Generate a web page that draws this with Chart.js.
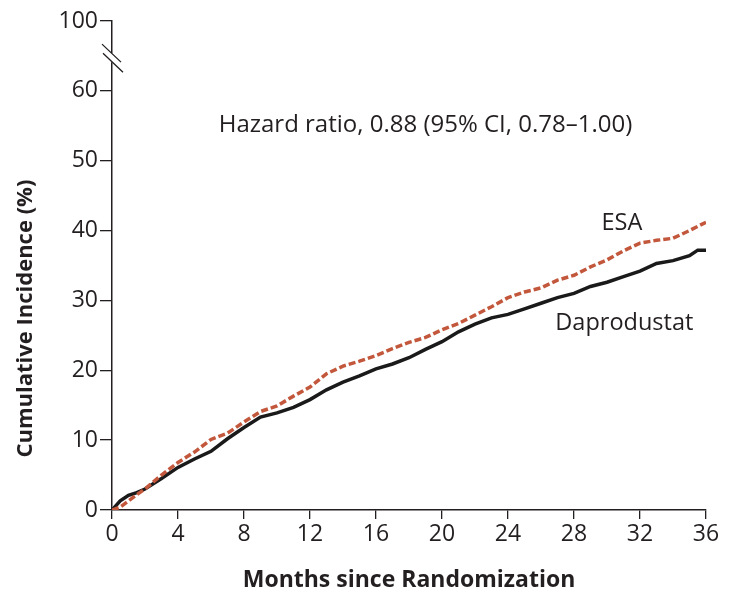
<!DOCTYPE html>
<html>
<head>
<meta charset="utf-8">
<script src="https://cdn.jsdelivr.net/npm/chart.js@4/dist/chart.umd.min.js"></script>
<style>
  html, body { margin: 0; padding: 0; background: #fff; }
  #wrap { width: 734px; height: 596px; position: relative; }
</style>
</head>
<body>
<div id="wrap"><canvas id="km"></canvas></div>
<script>
// values (months since randomization, cumulative incidence %)
const months = [0, 0.5, 1, 1.5, 2, 3, 4, 5, 6, 7, 8, 9, 10, 11, 12, 13, 14, 15, 16, 17, 18,
  19, 20, 21, 22, 23, 24, 25, 26, 27, 28, 29, 30, 31, 32, 33, 34, 35, 35.5, 36]
const dapro = [0, 1.3, 2.1, 2.5, 3.0, 4.5, 6.1, 7.3, 8.4, 10.2, 11.8, 13.3, 13.9, 14.7, 15.8, 17.2, 18.3,
  19.2, 20.2, 20.9, 21.8, 23.0, 24.1, 25.5, 26.6, 27.5, 28.0, 28.8, 29.6, 30.4, 31.0, 32.0, 32.6,
  33.4, 34.2, 35.3, 35.7, 36.4, 37.2, 37.2]
const esa = [0, 0.4, 1.3, 2.2, 3.0, 5.0, 6.8, 8.3, 10.1, 11.0, 12.6, 14.1, 14.9, 16.3, 17.6, 19.5, 20.6,
  21.3, 22.1, 23.1, 24.0, 24.7, 25.8, 26.7, 27.9, 29.1, 30.4, 31.2, 31.8, 32.9, 33.6, 34.8, 35.8,
  37.1, 38.2, 38.6, 38.9, 40.0, 40.6, 41.2]
const xTicks = [0, 4, 8, 12, 16, 20, 24, 28, 32, 36]
const yTicks = [0, 10, 20, 30, 40, 50, 60, 70]   // 70 stands for 100, above the break
const yTickLabels = ['0', '10', '20', '30', '40', '50', '60', '100']

const ink = '#231f20'
const font = '"Open Sans", "Noto Sans", sans-serif'

function pts(ys) {
  return months.map((m, i) => ({ x: m, y: ys[i] }))
}

// axis break + text labels
const extras = {
  id: 'extras',
  afterDraw(chart) {
    const ctx = chart.ctx
    const xs = chart.scales.x, ys = chart.scales.y
    const ax = xs.left
    const yHi = ys.getPixelForValue(65.4), yLo = ys.getPixelForValue(64.1)
    ctx.save()
    ctx.fillStyle = '#fff'
    ctx.fillRect(ax - 3, yHi, 6, yLo - yHi)
    ctx.strokeStyle = ink
    ctx.lineWidth = 1.3
    ctx.beginPath()
    ctx.moveTo(ax - 10, yHi - 9); ctx.lineTo(ax + 9, yHi + 9)
    ctx.moveTo(ax - 9, yLo - 9); ctx.lineTo(ax + 11, yLo + 10)
    ctx.stroke()

    ctx.fillStyle = ink
    ctx.textAlign = 'center'
    ctx.textBaseline = 'middle'
    ctx.font = '24px ' + font
    ctx.fillText('Hazard ratio, 0.88 (95% CI, 0.78\u20131.00)', xs.getPixelForValue(19.0), ys.getPixelForValue(55.1))
    ctx.font = '23.5px ' + font
    ctx.fillText('ESA', xs.getPixelForValue(30.9), ys.getPixelForValue(41.1))
    ctx.fillText('Daprodustat', xs.getPixelForValue(31.05), ys.getPixelForValue(26.7))

    ctx.translate(26, ys.getPixelForValue(27.4))
    ctx.rotate(-Math.PI / 2)
    ctx.font = 'bold 22px ' + font
    ctx.fillText('Cumulative Incidence (%)', 0, 0)
    ctx.restore()
  }
}

new Chart(document.getElementById('km'), {
  type: 'line',
  data: {
    datasets: [
      {
        label: 'ESA',
        data: pts(esa),
        borderColor: '#c2573c',
        borderWidth: 3.5,
        borderDash: [7, 3],
        pointRadius: 0,
        tension: 0,
        fill: false
      },
      {
        label: 'Daprodustat',
        data: pts(dapro),
        borderColor: '#1a1a1a',
        borderWidth: 3.5,
        pointRadius: 0,
        tension: 0,
        fill: false
      }
    ]
  },
  options: {
    responsive: true,
    maintainAspectRatio: false,
    animation: false,
    layout: { padding: { top: 21, right: 28, left: 0, bottom: 0 } },
    plugins: { legend: { display: false }, tooltip: { enabled: false } },
    scales: {
      x: {
        type: 'linear',
        min: 0, max: 36,
        afterFit(s) { s.height = 86 },
        afterBuildTicks(s) { s.ticks = xTicks.map(v => ({ value: v })) },
        grid: { drawOnChartArea: false, drawTicks: true, tickLength: 9, color: ink, lineWidth: 1.3 },
        border: { color: ink, width: 1.5 },
        ticks: { color: ink, font: { family: font, size: 23 }, padding: 2, maxRotation: 0 },
        title: {
          display: true,
          text: 'Months since Randomization',
          color: ink,
          font: { family: font, size: 23, weight: 'bold' },
          padding: { top: 0, bottom: 2 }
        }
      },
      y: {
        type: 'linear',
        min: 0, max: 70,
        afterFit(s) { s.width = 112 },
        afterBuildTicks(s) { s.ticks = yTicks.map(v => ({ value: v })) },
        grid: { drawOnChartArea: false, drawTicks: true, tickLength: 12, color: ink, lineWidth: 1.3 },
        border: { color: ink, width: 1.5 },
        ticks: {
          color: ink,
          font: { family: font, size: 23 },
          padding: 2,
          callback: (v) => yTickLabels[yTicks.indexOf(v)]
        }
      }
    }
  },
  plugins: [extras]
})
</script>
</body>
</html>
